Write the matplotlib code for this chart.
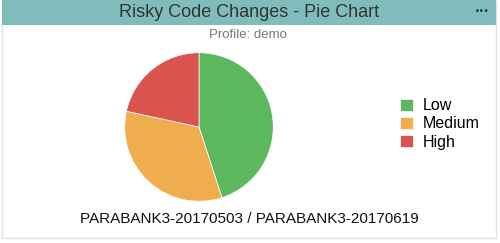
import matplotlib.pyplot as plt
from matplotlib.patches import Rectangle

plt.rcParams['font.family'] = ['Liberation Sans', 'DejaVu Sans']

# data
labels = ["Low", "Medium", "High"]
values = [45, 33.4, 21.6]
colors = ["#5cb85c", "#f0ad4e", "#d9534f"]

title = "Risky Code Changes - Pie Chart"
subtitle = "Profile: demo"
footer = "PARABANK3-20170503 / PARABANK3-20170619"

W, H = 500, 243
fig = plt.figure(figsize=(W / 100, H / 100), dpi=100)
fig.patch.set_facecolor("white")

# panel frame and teal header (behind the pie axes)
fig.patches.append(Rectangle((2 / W, 5 / H), 494 / W, 237 / H, transform=fig.transFigure,
                             facecolor="white", edgecolor="#e3e3e3", lw=1, zorder=-2))
fig.patches.append(Rectangle((2 / W, (H - 25) / H), 494 / W, 25 / H, transform=fig.transFigure,
                             facecolor="#80bcbc", edgecolor="none", zorder=-1))
fig.text(249 / W, (H - 12.5) / H, title, ha="center", va="center", fontsize=13, color="#333333")
fig.text(489 / W, (H - 12) / H, "\u2022\u2022\u2022", ha="right", va="center", fontsize=6,
         color="#222222", family="DejaVu Sans")
fig.text(248 / W, (H - 35) / H, subtitle, ha="center", va="center", fontsize=9.5, color="#777777")
fig.text(249 / W, (H - 219) / H, footer, ha="center", va="center", fontsize=11, color="#111111")

# pie
cx, cy, r = 199, H - 127, 75
ax = fig.add_axes([(cx - r) / W, (cy - r) / H, 2 * r / W, 2 * r / H])
wedges, _ = ax.pie(values, colors=colors, startangle=90, counterclock=False,
                   wedgeprops=dict(edgecolor="white", linewidth=0.5))
ax.set_xlim(-1.01, 1.01)
ax.set_ylim(-1.01, 1.01)
ax.set_aspect("equal")
ax.axis("off")

fig.legend(wedges, labels, loc="center left", bbox_to_anchor=(392 / W, (H - 124) / H),
           frameon=False, fontsize=11.5, handlelength=0.8, handleheight=0.8,
           handletextpad=0.6, labelspacing=0.2, borderpad=0)

fig.savefig("out.png", dpi=100)
